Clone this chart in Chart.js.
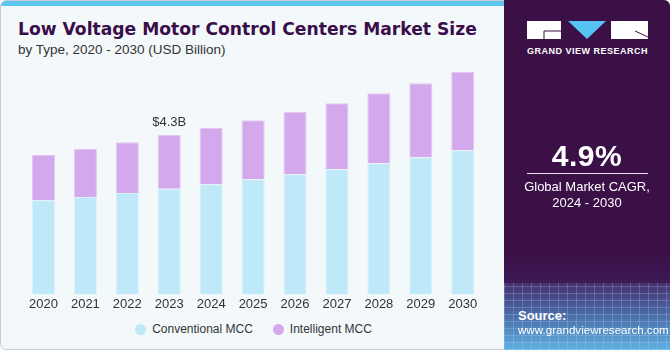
<!DOCTYPE html>
<html>
<head>
<meta charset="utf-8">
<script src="https://cdn.jsdelivr.net/npm/chart.js@4.4.1/dist/chart.umd.min.js"></script>
<style>
  html, body { margin: 0; padding: 0; background: #ffffff; }
  body { width: 670px; height: 350px; position: relative; overflow: hidden; font-family: "Liberation Sans", Arial, sans-serif; }
  #card { position: absolute; left: 0; top: 0; width: 668px; height: 348px; border: 1px solid #c9ccd0; border-radius: 6px; background: #f3f8fb; overflow: hidden; }
  #strip { position: absolute; left: 0; top: 0; width: 505px; height: 5px; background: #5bc6ee; }
  #title { position: absolute; left: 17px; top: 18px; font-family: "DejaVu Sans", sans-serif; font-size: 17px; font-weight: bold; color: #3a0e49; white-space: nowrap; transform-origin: left top; }
  #subtitle { position: absolute; left: 17px; top: 41px; font-size: 13.5px; color: #333; white-space: nowrap; }
  #chartBox { position: absolute; left: 0; top: 60px; width: 505px; height: 253px; }
  #legend { position: absolute; left: 0; top: 321px; width: 505px; display: flex; justify-content: center; font-size: 12px; color: #333; }
  #legend .item { display: flex; align-items: center; margin: 0 10px; }
  #legend .dot { width: 11px; height: 11px; border-radius: 50%; margin-right: 6px; }
  #panel { position: absolute; left: 504px; top: 0; width: 166px; height: 350px; background: #3a1047; overflow: hidden; border-top-right-radius: 6px; }
  #grid { position: absolute; left: 0; top: 283px; width: 166px; height: 67px;
    background:
      repeating-linear-gradient(90deg, rgba(200,225,255,0.22) 0 1px, transparent 1px 9px),
      repeating-linear-gradient(0deg, rgba(200,225,255,0.22) 0 1px, transparent 1px 7px),
      linear-gradient(180deg, #47306e 0%, #4a68a4 45%, #5fb0e2 100%); }
  #fade { position: absolute; left: 0; top: 255px; width: 166px; height: 30px; background: linear-gradient(180deg, #3a1047, #3f1b57); }
  .pt { position: absolute; color: #fff; white-space: nowrap; }
</style>
</head>
<body>
<div id="card">
  <div id="strip"></div>
  <div id="title">Low Voltage Motor Control Centers Market Size</div>
  <div id="subtitle">by Type, 2020 - 2030 (USD Billion)</div>
  <div id="chartBox"><canvas id="mccChart"></canvas></div>
  <div id="legend"></div>
</div>
<div id="panel">
  <div id="fade"></div>
  <div id="grid"></div>
  <svg style="position:absolute;left:0;top:0" width="166" height="60">
    <rect x="23" y="21" width="34" height="18" fill="#fff"/>
    <polyline points="40,31 57,31" stroke="#3a1047" stroke-width="1" fill="none"/>
    <polyline points="40,31 40,39" stroke="#3a1047" stroke-width="1" fill="none"/>
    <polygon points="64,21 102,21 83,39" fill="#55c4f2"/>
    <rect x="107" y="21" width="37" height="18" fill="#fff"/>
    <line x1="131" y1="31" x2="144" y2="37" stroke="#3a1047" stroke-width="1"/>
  </svg>
  <div class="pt" style="left:23px;top:46px;font-size:9px;font-weight:bold;letter-spacing:0.5px;">GRAND VIEW RESEARCH</div>
  <div class="pt" style="left:0;width:166px;text-align:center;top:139px;font-size:30px;font-weight:bold;letter-spacing:0.5px;">4.9%</div>
  <div style="position:absolute;left:23px;top:173px;width:121px;height:1px;background:#e8e0ee;"></div>
  <div class="pt" style="left:0;width:166px;text-align:center;top:179px;font-size:13px;line-height:16px;">Global Market CAGR,<br>2024 - 2030</div>
  <div class="pt" style="left:14px;top:308px;font-size:13px;font-weight:bold;">Source:</div>
  <div class="pt" style="left:14px;top:323px;font-size:11.6px;">www.grandviewresearch.com</div>
</div>
<script>
const years = ['2020', '2021', '2022', '2023', '2024', '2025', '2026', '2027', '2028', '2029', '2030'];
const conventional = [2.54, 2.63, 2.74, 2.85, 2.97, 3.11, 3.24, 3.38, 3.54, 3.70, 3.89];
const intelligent = [1.22, 1.30, 1.37, 1.45, 1.53, 1.59, 1.69, 1.78, 1.89, 2.00, 2.11];
const seriesNames = ['Conventional MCC', 'Intelligent MCC'];
const seriesColors = ['#bfe9f9', '#d4a8ec'];
const calloutYear = '2023';
const calloutText = '$4.3B';

// stretch the title to the width it has in the original
const title = document.getElementById('title');
title.style.transform = `scaleX(${459 / title.offsetWidth})`;

// text above one stacked bar
const calloutPlugin = {
    id: 'callout',
    afterDatasetsDraw(chart) {
        const i = years.indexOf(calloutYear);
        const total = conventional[i] + intelligent[i];
        const x = chart.scales.x.getPixelForValue(i);
        const y = chart.scales.y.getPixelForValue(total);
        const c = chart.ctx;
        c.save();
        c.font = '13px "Liberation Sans", Arial, sans-serif';
        c.fillStyle = '#333';
        c.textAlign = 'center';
        c.textBaseline = 'bottom';
        c.fillText(calloutText, x, y - 6);
        c.restore();
    }
};

const ctx = document.getElementById('mccChart').getContext('2d');
const mccChart = new Chart(ctx, {
    type: 'bar',
    data: {
        labels: years,
        datasets: [
            { label: seriesNames[0], data: conventional, backgroundColor: seriesColors[0], borderColor: '#d9f1fb', borderWidth: 1 },
            { label: seriesNames[1], data: intelligent, backgroundColor: seriesColors[1], borderColor: '#e3c8f2', borderWidth: 1 }
        ]
    },
    options: {
        responsive: true,
        maintainAspectRatio: false,
        animation: false,
        datasets: { bar: { categoryPercentage: 1, barPercentage: 0.55 } },
        layout: { padding: { left: 21.5, right: 22.3, top: 0, bottom: 0 } },
        plugins: { legend: { display: false }, tooltip: { enabled: false } },
        scales: {
            x: {
                stacked: true,
                grid: { display: false, drawTicks: false },
                border: { display: false },
                ticks: { color: '#333', padding: 2, font: { size: 13, family: '"Liberation Sans", Arial, sans-serif' } }
            },
            y: { stacked: true, display: false, min: 0, max: 6.3 }
        }
    },
    plugins: [calloutPlugin]
});

const legendContainer = document.getElementById('legend');
seriesNames.forEach((name, index) => {
    const item = document.createElement('div');
    item.className = 'item';
    item.innerHTML = `<div class="dot" style="background-color:${seriesColors[index]}"></div>${name}`;
    legendContainer.appendChild(item);
});
</script>
</body>
</html>
